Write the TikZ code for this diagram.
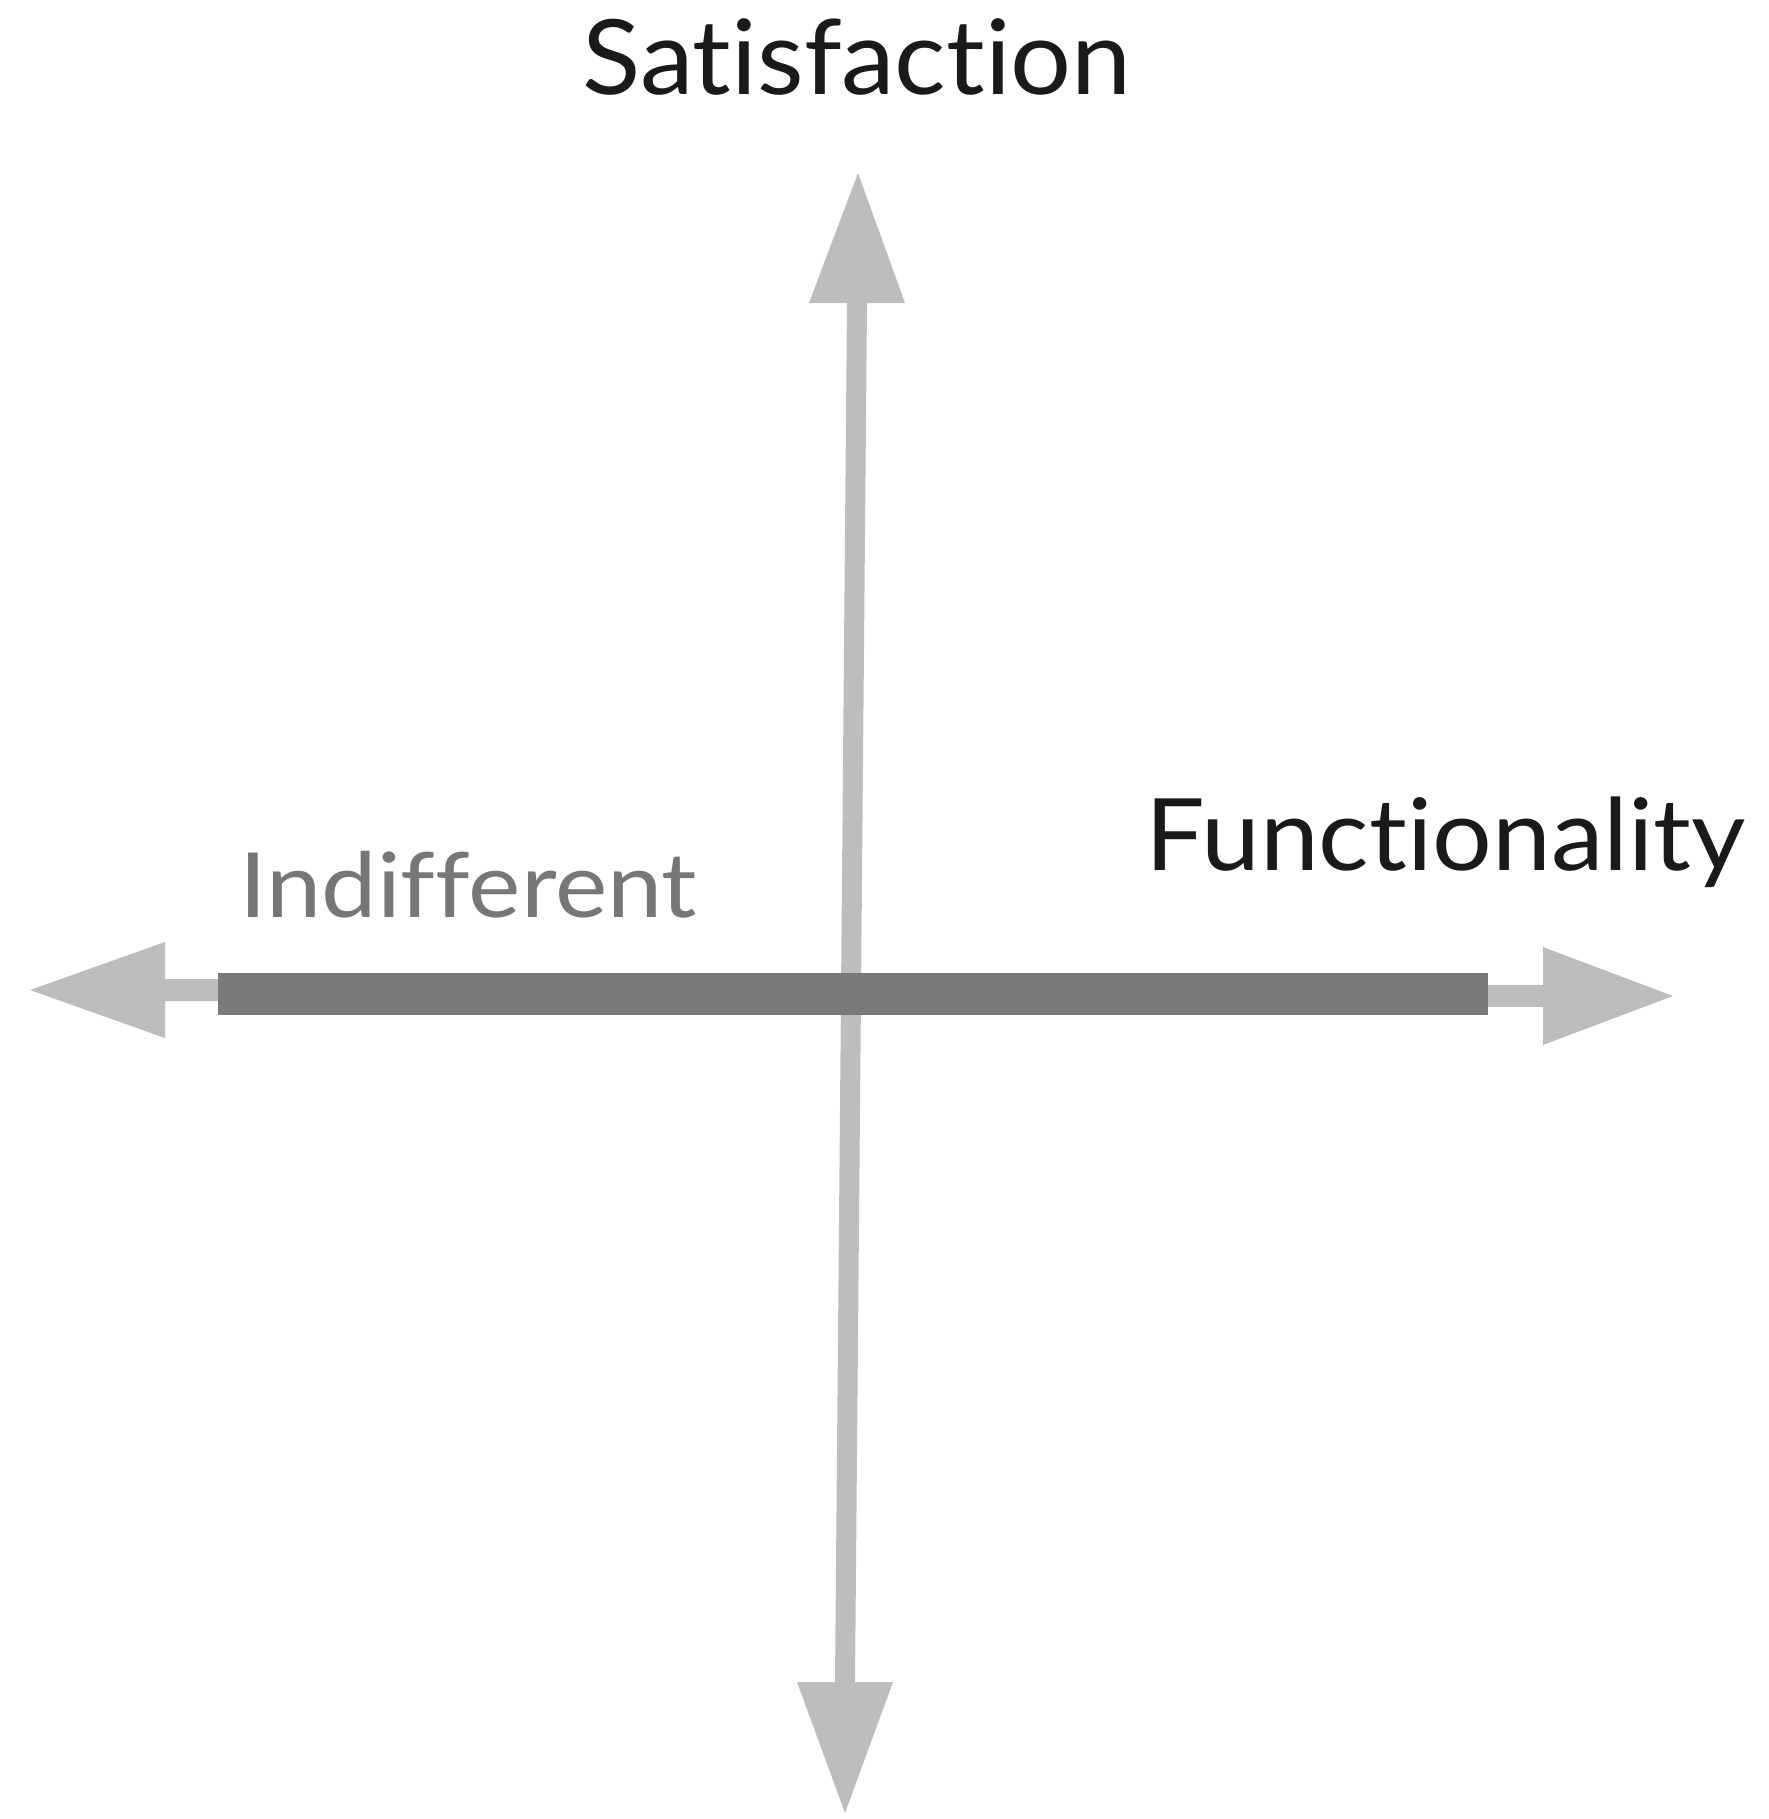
\documentclass[tikz,border=0pt]{standalone}
\usepackage{fontspec}
\setmainfont{Lato}[Ligatures=NoCommon]
\definecolor{axisgray}{HTML}{BDBDBD}
\definecolor{bargray}{HTML}{7A7A7A}
\definecolor{labelgray}{HTML}{777777}
\definecolor{labelblack}{HTML}{1A1A1A}
\begin{document}
\begin{tikzpicture}[x=0.5pt,y=-0.5pt,
  axisline/.style={draw=axisgray,line width=10pt},
  arrowhead/.style={fill=axisgray,draw=none},
  barline/.style={draw=bargray,line width=21pt},
  lbl/.style={inner sep=0pt,anchor=base west}]
\useasboundingbox (0,0) rectangle (1768,1819);
% coordinates
\coordinate (ttip) at (858,173);
\coordinate (tbase) at (857,303);
\coordinate (btip) at (845,1813);
\coordinate (bbase) at (845,1682);
\coordinate (ltip) at (30,990);
\coordinate (lbase) at (165,990);
\coordinate (rtip) at (1673,996);
\coordinate (rbase) at (1543,996);
\coordinate (bars) at (218,994);
\coordinate (bare) at (1488,994);
% shafts
\draw[axisline] (tbase) -- (bbase);
\draw[axisline,line width=11pt] (lbase) -- (rbase);
% heads
\fill[arrowhead] (ttip) -- ([xshift=-24pt]tbase) -- ([xshift=24pt]tbase) -- cycle;
\fill[arrowhead] (btip) -- ([xshift=-24pt]bbase) -- ([xshift=24pt]bbase) -- cycle;
\fill[arrowhead] (ltip) -- ([yshift=-24pt]lbase) -- ([yshift=24pt]lbase) -- cycle;
\fill[arrowhead] (rtip) -- ([yshift=-24.5pt]rbase) -- ([yshift=24.5pt]rbase) -- cycle;
% bar
\draw[barline] (bars) -- (bare);
% labels
\node[lbl,text=labelblack,font=\fontsize{52}{62}\selectfont] (sat) at (582,95) {\scalebox{1.035}[1]{Satisfaction}};
\node[lbl,text=labelblack,font=\fontsize{50}{60}\selectfont] (fun) at (1145,870) {\scalebox{1.055}[1]{Functionality}};
\node[lbl,text=labelgray,font=\fontsize{45}{54}\selectfont] (ind) at (239,917) {\scalebox{1.10}[1]{Indifferent}};
\end{tikzpicture}
\end{document}
